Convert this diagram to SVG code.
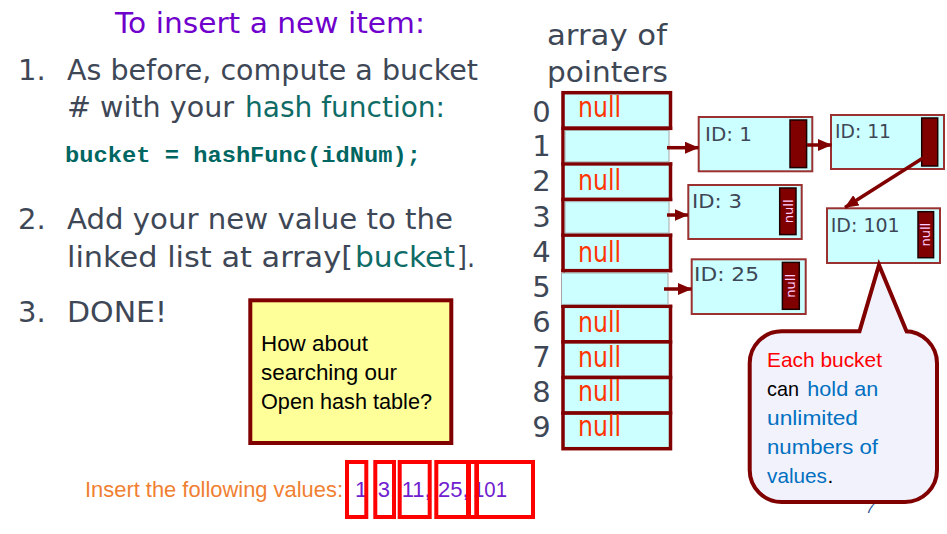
<svg xmlns="http://www.w3.org/2000/svg" width="947" height="534" viewBox="0 0 947 534">
  <style>
    .comic { font-family: "DejaVu Sans", "Liberation Sans", sans-serif; }
    .body { fill: #3E4756; font-size: 29px; }
    .teal { fill: #0E6B66; }
    .title { fill: #7000CC; font-size: 29px; }
    .code { font-family: "Liberation Mono", "DejaVu Sans Mono", monospace; font-weight: bold; font-size: 22px; fill: #006662; }
    .idx { fill: #3E4756; font-size: 29px; text-anchor: middle; }
    .null { fill: #FF3300; font-size: 29px; }
    .cell { fill: #CCFFFF; stroke: #800000; stroke-width: 3.5; }
    .patch { fill: #CCFFFF; stroke: #A6A6A6; stroke-width: 1; }
    .node { fill: #CCFFFF; stroke: #9B3030; stroke-width: 2; }
    .ptr { fill: #800000; stroke: #1A0000; stroke-width: 1.5; }
    .idtxt { fill: #3E4756; font-size: 20px; }
    .pnull { fill: #FFCCFF; font-size: 13px; text-anchor: middle; dominant-baseline: central; }
    .link { stroke: #800000; stroke-width: 3.5; fill: none; }
    .sans { font-family: "Liberation Sans", Arial, sans-serif; }
    .box { fill: none; stroke: #FF0000; stroke-width: 4; }
  </style>
  <defs>
    <marker id="head" markerUnits="userSpaceOnUse" markerWidth="14" markerHeight="12" refX="13.5" refY="6" orient="auto">
      <path d="M0,0 L14,6 L0,12 Z" fill="#800000"/>
    </marker>
  </defs>

  <!-- left column: instructions -->
  <g id="instructions" class="comic">
    <text class="title" x="115" y="33" textLength="310" lengthAdjust="spacingAndGlyphs">To insert a new item:</text>
    <text class="body" x="18" y="80">1.</text>
    <text class="body" x="67" y="80" textLength="411" lengthAdjust="spacingAndGlyphs">As before, compute a bucket</text>
    <text class="body" x="67" y="116.5" textLength="167" lengthAdjust="spacingAndGlyphs"># with your</text>
    <text class="body teal" x="245" y="116.5" textLength="200" lengthAdjust="spacingAndGlyphs">hash function:</text>
    <text class="code" x="65" y="162" textLength="356" lengthAdjust="spacingAndGlyphs">bucket = hashFunc(idNum);</text>
    <text class="body" x="18" y="229">2.</text>
    <text class="body" x="67" y="229" textLength="386" lengthAdjust="spacingAndGlyphs">Add your new value to the</text>
    <text class="body" x="67" y="266.5" textLength="286" lengthAdjust="spacingAndGlyphs">linked list at array[</text>
    <text class="body teal" x="355" y="266.5" textLength="100" lengthAdjust="spacingAndGlyphs">bucket</text>
    <text class="body" x="457" y="266.5" textLength="18" lengthAdjust="spacingAndGlyphs">].</text>
    <text class="body" x="18" y="322">3.</text>
    <text class="body" x="67" y="322" textLength="100" lengthAdjust="spacingAndGlyphs">DONE!</text>
  </g>

  <!-- question note -->
  <g id="note">
    <rect x="250.3" y="300.3" width="201" height="142.7" fill="#FFFF99" stroke="#800000" stroke-width="4"/>
    <g class="sans" font-size="22" fill="#000000">
      <text x="261" y="351" textLength="107" lengthAdjust="spacingAndGlyphs">How about</text>
      <text x="261" y="380" textLength="136" lengthAdjust="spacingAndGlyphs">searching our</text>
      <text x="261" y="408.5" textLength="171" lengthAdjust="spacingAndGlyphs">Open hash table?</text>
    </g>
  </g>

  <!-- values to insert -->
  <g id="values" class="sans" font-size="22">
    <text x="85" y="497" fill="#F07F32" textLength="258" lengthAdjust="spacingAndGlyphs">Insert the following values:</text>
    <g fill="#7020D0">
      <text x="355" y="497">1</text>
      <text x="377.7" y="497">3,</text>
      <text x="401.7" y="497">11,</text>
      <text x="438" y="497">25,</text>
      <text x="473" y="497" textLength="34" lengthAdjust="spacingAndGlyphs">101</text>
    </g>
    <rect class="box" x="347" y="462" width="19.3" height="55"/>
    <rect class="box" x="375.3" y="462" width="18.7" height="55"/>
    <rect class="box" x="399.7" y="462" width="30" height="55"/>
    <rect class="box" x="436.3" y="462" width="31.7" height="55"/>
    <rect class="box" x="469" y="462" width="7.3" height="55"/>
    <rect class="box" x="477" y="462" width="56" height="55"/>
  </g>

  <!-- bucket array -->
  <g id="array" class="comic">
    <text fill="#3E4756" font-size="29" x="547" y="45" textLength="120" lengthAdjust="spacingAndGlyphs">array of</text>
    <text fill="#3E4756" font-size="29" x="547" y="81.5" textLength="121" lengthAdjust="spacingAndGlyphs">pointers</text>

    <rect class="cell" x="563" y="92.7" width="107.5" height="35.6"/>
    <rect class="cell" x="563" y="128.3" width="107.5" height="35.6"/>
    <rect class="cell" x="563" y="163.9" width="107.5" height="35.6"/>
    <rect class="cell" x="563" y="199.5" width="107.5" height="35.6"/>
    <rect class="cell" x="563" y="235.1" width="107.5" height="35.6"/>
    <rect class="cell" x="563" y="270.7" width="107.5" height="35.6"/>
    <rect class="cell" x="563" y="306.3" width="107.5" height="35.6"/>
    <rect class="cell" x="563" y="341.9" width="107.5" height="35.6"/>
    <rect class="cell" x="563" y="377.5" width="107.5" height="35.6"/>
    <rect class="cell" x="563" y="413.1" width="107.5" height="35.6"/>

    <!-- cells that hold a pointer -->
    <rect x="668.5" y="130.1" width="5" height="32" fill="#FFFFFF"/>
    <rect class="patch" x="565" y="130.5" width="104" height="31.4"/>
    <rect x="668.5" y="201.3" width="5" height="32" fill="#FFFFFF"/>
    <rect class="patch" x="565" y="201.7" width="104" height="31.4"/>
    <rect x="559" y="272.5" width="4.5" height="32" fill="#FFFFFF"/>
    <rect x="668" y="272.5" width="5.5" height="32" fill="#FFFFFF"/>
    <rect class="patch" x="561.5" y="273" width="106.5" height="31.4"/>

    <text class="idx" x="541.5" y="121.7">0</text>
    <text class="idx" x="541.5" y="156">1</text>
    <text class="idx" x="541.5" y="190.5">2</text>
    <text class="idx" x="541.5" y="226.5">3</text>
    <text class="idx" x="541.5" y="262">4</text>
    <text class="idx" x="541.5" y="296.7">5</text>
    <text class="idx" x="541.5" y="332">6</text>
    <text class="idx" x="541.5" y="367.3">7</text>
    <text class="idx" x="541.5" y="402.3">8</text>
    <text class="idx" x="541.5" y="436.7">9</text>

    <text class="null" x="578" y="116.7" textLength="43" lengthAdjust="spacingAndGlyphs">null</text>
    <text class="null" x="578" y="190" textLength="43" lengthAdjust="spacingAndGlyphs">null</text>
    <text class="null" x="578" y="261.7" textLength="43" lengthAdjust="spacingAndGlyphs">null</text>
    <text class="null" x="578" y="331.7" textLength="43" lengthAdjust="spacingAndGlyphs">null</text>
    <text class="null" x="578" y="366.7" textLength="43" lengthAdjust="spacingAndGlyphs">null</text>
    <text class="null" x="578" y="401" textLength="43" lengthAdjust="spacingAndGlyphs">null</text>
    <text class="null" x="578" y="435.7" textLength="43" lengthAdjust="spacingAndGlyphs">null</text>
  </g>

  <!-- list nodes -->
  <g id="node-1" class="comic">
    <rect class="node" x="698.7" y="117" width="113.6" height="54.3"/>
    <text class="idtxt" x="705" y="141" textLength="47" lengthAdjust="spacingAndGlyphs">ID: 1</text>
    <rect class="ptr" x="790" y="120" width="16.6" height="47.6"/>
  </g>
  <g id="node-11" class="comic">
    <rect class="node" x="831" y="115" width="113" height="54"/>
    <text class="idtxt" x="835" y="137.5" textLength="56" lengthAdjust="spacingAndGlyphs">ID: 11</text>
    <rect class="ptr" x="921.7" y="118" width="16" height="48"/>
  </g>
  <g id="node-3" class="comic">
    <rect class="node" x="688.3" y="185" width="113.4" height="54"/>
    <text class="idtxt" x="692" y="207.7" textLength="50" lengthAdjust="spacingAndGlyphs">ID: 3</text>
    <rect class="ptr" x="779.7" y="188" width="16.3" height="46.6"/>
    <text class="pnull" transform="translate(788 211.3) rotate(-90)">null</text>
  </g>
  <g id="node-101" class="comic">
    <rect class="node" x="827" y="208.3" width="113" height="54.7"/>
    <text class="idtxt" x="830.7" y="231.7" textLength="69" lengthAdjust="spacingAndGlyphs">ID: 101</text>
    <rect class="ptr" x="918" y="211.7" width="15.6" height="46"/>
    <text class="pnull" transform="translate(925.8 234.7) rotate(-90)">null</text>
  </g>
  <g id="node-25" class="comic">
    <rect class="node" x="691.7" y="259.3" width="114" height="54.7"/>
    <text class="idtxt" x="694" y="281" textLength="65" lengthAdjust="spacingAndGlyphs">ID: 25</text>
    <rect class="ptr" x="782.4" y="262.4" width="16.9" height="46.9"/>
    <text class="pnull" transform="translate(790.8 285.8) rotate(-90)">null</text>
  </g>

  <!-- pointers between array cells and nodes -->
  <g id="connectors">
    <line class="link" x1="667" y1="147.7" x2="698.5" y2="147.7" marker-end="url(#head)"/>
    <line class="link" x1="667" y1="215" x2="688" y2="215" marker-end="url(#head)"/>
    <line class="link" x1="664" y1="289" x2="691.5" y2="289" marker-end="url(#head)"/>
    <line class="link" x1="807" y1="145" x2="831.5" y2="145" marker-end="url(#head)"/>
    <line class="link" x1="923" y1="158" x2="845" y2="207.5" marker-end="url(#head)"/>
  </g>

  <!-- page number, partly under the callout -->
  <text x="866" y="513" font-family="Liberation Sans, sans-serif" font-style="italic" font-size="15" fill="#2F5597">7</text>

  <!-- callout -->
  <g id="callout">
    <path d="M 781.7 331.3 H 859.5 L 879 265 L 906.5 331.3 H 905 A 32 32 0 0 1 937 363.3 V 470 A 32 32 0 0 1 905 502 H 781.7 A 32 32 0 0 1 749.7 470 V 363.3 A 32 32 0 0 1 781.7 331.3 Z" fill="#F2F2FD" stroke="#800000" stroke-width="4" stroke-linejoin="miter"/>
    <g class="sans" font-size="21">
      <text x="767" y="366.7" fill="#FF0000" textLength="115" lengthAdjust="spacingAndGlyphs">Each bucket</text>
      <text x="767" y="396" fill="#000000" textLength="32" lengthAdjust="spacingAndGlyphs">can</text>
      <text x="807.3" y="396" fill="#0070C0" textLength="71" lengthAdjust="spacingAndGlyphs">hold an</text>
      <text x="767" y="425" fill="#0070C0" textLength="91" lengthAdjust="spacingAndGlyphs">unlimited</text>
      <text x="767" y="454" fill="#0070C0" textLength="111" lengthAdjust="spacingAndGlyphs">numbers of</text>
      <text x="767" y="482.7" fill="#0070C0" textLength="60" lengthAdjust="spacingAndGlyphs">values</text>
      <text x="827.5" y="482.7" fill="#000000">.</text>
    </g>
  </g>
</svg>
